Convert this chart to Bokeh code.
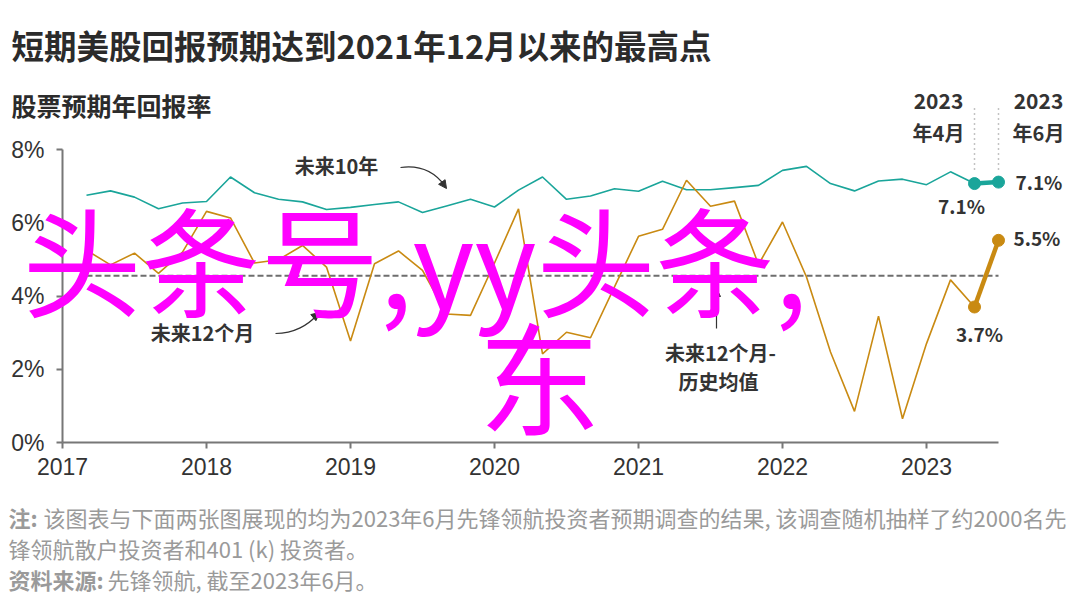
from bokeh.plotting import figure
from bokeh.models import Range1d, FixedTicker, Label, Arrow, NormalHead
from bokeh.embed import file_html
from bokeh.resources import INLINE

# ---------------- data ----------------
dates = ["2017-02", "2017-04", "2017-06", "2017-08", "2017-10", "2017-12",
         "2018-02", "2018-04", "2018-06", "2018-08", "2018-10", "2018-12",
         "2019-02", "2019-04", "2019-06", "2019-08", "2019-10", "2019-12",
         "2020-02", "2020-04", "2020-06", "2020-08", "2020-10", "2020-12",
         "2021-02", "2021-04", "2021-06", "2021-08", "2021-10", "2021-12",
         "2022-02", "2022-04", "2022-06", "2022-08", "2022-10", "2022-12",
         "2023-02", "2023-04", "2023-06"]
ten_year = [6.75, 6.87, 6.70, 6.38, 6.54, 6.58,
            7.25, 6.82, 6.64, 6.57, 6.36, 6.42,
            6.50, 6.57, 6.28, 6.46, 6.64, 6.43,
            6.89, 7.25, 6.64, 6.73, 6.93, 6.86,
            7.13, 6.90, 6.90, 6.96, 7.02, 7.43,
            7.54, 7.07, 6.87, 7.14, 7.19, 7.04,
            7.39, 7.07, 7.11]
twelve_month = [5.25, 4.85, 5.17, 4.62, 5.20, 6.31,
                6.13, 4.90, 4.99, 5.38, 4.79, 2.77,
                4.88, 5.23, 4.70, 3.51, 3.47, 4.90,
                6.38, 2.42, 3.01, 2.86, 4.25, 5.63,
                5.82, 7.16, 6.45, 6.59, 4.86, 6.02,
                4.52, 2.47, 0.85, 3.45, 0.65, 2.70,
                4.44, 3.70, 5.52]
hist_avg = 4.55
y_ticks = [0, 2, 4, 6, 8]
y_tick_labels = ["0%", "2%", "4%", "6%", "8%"]
x_ticks = [2017, 2018, 2019, 2020, 2021, 2022, 2023]
x_tick_labels = ["2017", "2018", "2019", "2020", "2021", "2022", "2023"]

TEAL = "#1aa59a"
GOLD = "#c98a12"
DARK = "#333333"
GREY = "#9a9a9a"
CJK = "Noto Sans CJK SC"
LAT = "Liberation Sans"

x = [int(d[:4]) + int(d[5:]) / 12 for d in dates]

# plotting-area geometry in pixels (axes box), used to map annotation positions
FX0, FX1, FY0, FY1 = 62, 998, 442, 149
XB = (2017, 2023.5)
YB = (0, 8)
W, H = 1080, 609


def dx(px):
    return XB[0] + (px - FX0) * (XB[1] - XB[0]) / (FX1 - FX0)


def dy(py):
    return YB[0] + (FY0 - py) * (YB[1] - YB[0]) / (FY0 - FY1)


p = figure(width=W, height=H, output_backend="svg", toolbar_location=None,
           x_range=Range1d(dx(0), dx(W)), y_range=Range1d(dy(H), dy(0)),
           min_border=0)
p.outline_line_color = None
p.grid.visible = False
p.background_fill_color = "white"
p.border_fill_color = "white"

for ax in (p.xaxis[0], p.yaxis[0]):
    ax.axis_line_color = "#777777"
    ax.axis_line_width = 2
    ax.major_tick_line_color = "#777777"
    ax.major_tick_line_width = 2
    ax.major_tick_in = 0
    ax.major_tick_out = 6
    ax.minor_tick_line_color = None
    ax.major_label_text_font = LAT
    ax.major_label_text_font_size = "23px"
    ax.major_label_text_color = DARK

p.xaxis.fixed_location = YB[0]
p.xaxis.bounds = XB
p.xaxis.ticker = FixedTicker(ticks=x_ticks)
p.xaxis.major_label_overrides = {t: l for t, l in zip(x_ticks, x_tick_labels)}
p.xaxis.major_label_standoff = 9
p.yaxis.fixed_location = XB[0]
p.yaxis.bounds = YB
p.yaxis.ticker = FixedTicker(ticks=y_ticks)
p.yaxis.major_label_overrides = {t: l for t, l in zip(y_ticks, y_tick_labels)}
p.yaxis.major_label_standoff = 12

# historical average dashed line
p.line([x[0], x[-1]], [hist_avg, hist_avg], line_color="#6e6e6e", line_width=2, line_dash="6 3")

# series
p.line(x, ten_year, line_color=TEAL, line_width=1.6)
p.line(x, twelve_month, line_color=GOLD, line_width=1.6)
p.line(x[-2:], ten_year[-2:], line_color=TEAL, line_width=4.5)
p.line(x[-2:], twelve_month[-2:], line_color=GOLD, line_width=4.5)
p.scatter(x[-2:], ten_year[-2:], size=12, fill_color=TEAL, line_color=TEAL)
p.scatter(x[-2:], twelve_month[-2:], size=12, fill_color=GOLD, line_color=GOLD)


def lab(text, px, py, size, bold=False, color=DARK, align="left", font=CJK, baseline="middle"):
    p.add_layout(Label(x=dx(px), y=dy(py), text=text, text_font=font,
                       text_font_size=size, text_font_style="bold" if bold else "normal",
                       text_color=color, text_align=align, text_baseline=baseline))


# titles
lab("短期美股回报预期达到2021年12月以来的最高点", 11, 44, "32.5px", bold=True, color="#2b2b2b")
lab("股票预期年回报率", 11, 104, "25px", bold=True, color="#2b2b2b")

# footnotes
FN = "22px"
lab("注:", 8, 516, FN, bold=True, color=GREY)
lab("该图表与下面两张图展现的均为2023年6月先锋领航投资者预期调查的结果, 该调查随机抽样了约2000名先",
    43, 516, FN, color=GREY)
lab("锋领航散户投资者和401 (k) 投资者。", 8, 547, FN, color=GREY)
lab("资料来源:", 8, 578, FN, bold=True, color=GREY)
lab("先锋领航, 截至2023年6月。", 107, 578, FN, color=GREY)

# series annotations
lab("未来10年", 336, 165, "20px", bold=True, align="center")
lab("未来12个月", 202, 332, "20px", bold=True, align="center")
lab("未来12个月-", 720, 352, "20px", bold=True, align="center")
lab("历史均值", 718, 381, "20px", bold=True, align="center")

# curved arrows
AC = "#333333"
p.bezier(x0=[dx(400)], y0=[dy(167)], x1=[dx(444)], y1=[dy(185)],
         cx0=[dx(422)], cy0=[dy(164)], cx1=[dx(436)], cy1=[dy(174)],
         line_color=AC, line_width=1.2)
p.add_layout(Arrow(end=NormalHead(size=8, fill_color=AC, line_color=AC),
                   x_start=dx(441), y_start=dy(181), x_end=dx(446), y_end=dy(188),
                   line_color=AC, line_width=1.2))
p.bezier(x0=[dx(275)], y0=[dy(333)], x1=[dx(316)], y1=[dy(315)],
         cx0=[dx(294)], cy0=[dy(333)], cx1=[dx(308)], cy1=[dy(324)],
         line_color=AC, line_width=1.2)
p.add_layout(Arrow(end=NormalHead(size=8, fill_color=AC, line_color=AC),
                   x_start=dx(313), y_start=dy(317), x_end=dx(319), y_end=dy(312),
                   line_color=AC, line_width=1.2))
p.add_layout(Arrow(end=NormalHead(size=8, fill_color=AC, line_color=AC),
                   x_start=dx(716), y_start=dy(328), x_end=dx(716), y_end=dy(288),
                   line_color=AC, line_width=1.2))

# period markers above the last two points
for xi in x[-2:]:
    p.add_layout(Arrow(end=None, start=None, x_start=xi, y_start=dy(108), x_end=xi, y_end=dy(173),
                       line_color="#888888", line_width=1.5, line_dash="1 4"))
lab("2023", 938, 100, "21px", bold=True, align="center")
lab("年4月", 938, 132, "20px", bold=True, align="center")
lab("2023", 1038, 100, "21px", bold=True, align="center")
lab("年6月", 1038, 132, "20px", bold=True, align="center")

# value labels
lab("7.1%", 961, 205, "19px", bold=True, align="center")
lab("7.1%", 1015, 181, "19px", bold=True)
lab("5.5%", 1013, 237, "19px", bold=True)
lab("3.7%", 979, 333, "19px", bold=True, align="center")

# overlay text as in the reference picture
lab("头条号,yy头条,", 22, 256, "119px", color="#ff00ff")
lab("东", 478, 372, "122px", color="#ff00ff")

open("out.html", "w").write(file_html(p, INLINE))
